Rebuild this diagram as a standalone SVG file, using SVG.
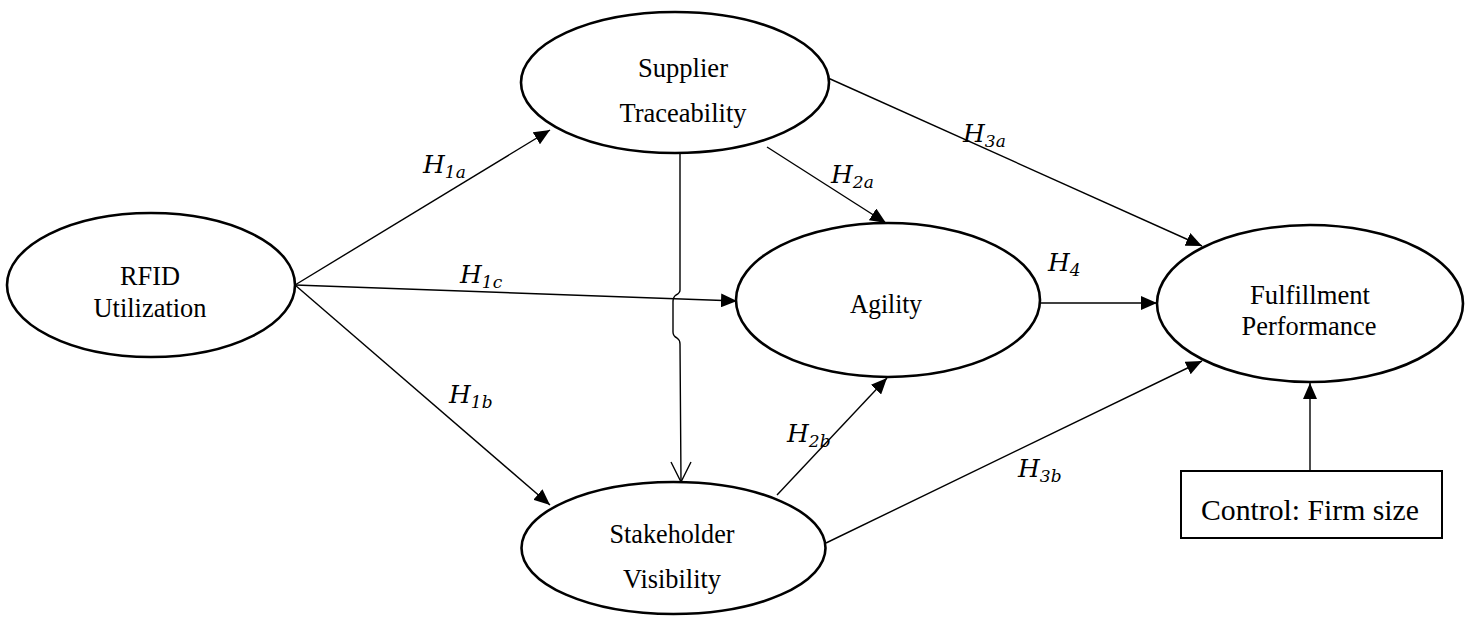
<svg xmlns="http://www.w3.org/2000/svg" width="1465" height="617" viewBox="0 0 1465 617">
<style>
.node{fill:#fff;stroke:#000;stroke-width:2.6}
.lbl{font-family:"Liberation Serif",Tinos,"Times New Roman","Nimbus Roman","DejaVu Serif",serif;font-size:26.5px;fill:#000;text-anchor:middle}
.hyp{font-family:"DejaVu Serif","Liberation Serif",serif;font-style:italic;font-size:25px;fill:#000}
.sub{font-size:17px}
.edge{fill:none;stroke:#000;stroke-width:1.4}
.arr{marker-end:url(#ah)}
</style>
<defs>
<marker id="ah" markerUnits="userSpaceOnUse" markerWidth="18" markerHeight="14" refX="16" refY="7" orient="auto">
<path d="M0,0 L16,7 L0,14 Z" fill="#000"/>
</marker>
</defs>
<rect width="1465" height="617" fill="#fff"/>
<g id="connectors">
<line class="edge arr" x1="295" y1="285" x2="550" y2="130"/>
<line class="edge arr" x1="295" y1="285" x2="737" y2="301"/>
<line class="edge arr" x1="295" y1="285" x2="550" y2="505"/>
<path class="edge" d="M680,154 L680,290 Q680,293 676,295 Q673,297 673,302 L673,332 Q673,336 677,338 Q680,340 680,344 L681,482"/>
<path class="edge" d="M671,462 L681,482 L691,462"/>
<line class="edge arr" x1="767" y1="147" x2="886" y2="223"/>
<line class="edge arr" x1="828" y1="78" x2="1202" y2="246"/>
<line class="edge arr" x1="1041" y1="303" x2="1157" y2="303"/>
<line class="edge arr" x1="777" y1="495" x2="887" y2="378"/>
<line class="edge arr" x1="826" y1="543" x2="1202" y2="361"/>
<line class="edge arr" x1="1310" y1="471" x2="1310" y2="383"/>
</g>
<g id="labels">
<text class="hyp" x="423" y="173">H<tspan class="sub" dy="5">1a</tspan></text>
<text class="hyp" x="460" y="283">H<tspan class="sub" dy="5">1c</tspan></text>
<text class="hyp" x="449" y="403">H<tspan class="sub" dy="5">1b</tspan></text>
<text class="hyp" x="831" y="183">H<tspan class="sub" dy="5">2a</tspan></text>
<text class="hyp" x="963" y="142">H<tspan class="sub" dy="5">3a</tspan></text>
<text class="hyp" x="1048" y="271">H<tspan class="sub" dy="5">4</tspan></text>
<text class="hyp" x="787" y="442">H<tspan class="sub" dy="5">2b</tspan></text>
<text class="hyp" x="1018" y="477">H<tspan class="sub" dy="5">3b</tspan></text>
</g>
<g id="rfid">
<ellipse class="node" cx="151" cy="285" rx="144" ry="72"/>
<text class="lbl" x="150" y="285" textLength="60" lengthAdjust="spacingAndGlyphs">RFID</text>
<text class="lbl" x="150" y="317" textLength="113" lengthAdjust="spacingAndGlyphs">Utilization</text>
</g>
<g id="supplier">
<ellipse class="node" cx="675" cy="82.5" rx="154" ry="70.5"/>
<text class="lbl" x="683" y="77" textLength="90" lengthAdjust="spacingAndGlyphs">Supplier</text>
<text class="lbl" x="683" y="122" textLength="127" lengthAdjust="spacingAndGlyphs">Traceability</text>
</g>
<g id="agility">
<ellipse class="node" cx="888" cy="300" rx="152" ry="77"/>
<text class="lbl" x="886" y="313" textLength="72" lengthAdjust="spacingAndGlyphs">Agility</text>
</g>
<g id="fulfillment">
<ellipse class="node" cx="1310" cy="303.5" rx="153" ry="78.5"/>
<text class="lbl" x="1310" y="304" textLength="120" lengthAdjust="spacingAndGlyphs">Fulfillment</text>
<text class="lbl" x="1309" y="335" textLength="135" lengthAdjust="spacingAndGlyphs">Performance</text>
</g>
<g id="stakeholder">
<ellipse class="node" cx="673.5" cy="548" rx="152" ry="66"/>
<text class="lbl" x="672" y="543" textLength="125" lengthAdjust="spacingAndGlyphs">Stakeholder</text>
<text class="lbl" x="672" y="588" textLength="98" lengthAdjust="spacingAndGlyphs">Visibility</text>
</g>
<g id="control">
<rect x="1181" y="471" width="261" height="67" fill="#fff" stroke="#000" stroke-width="2"/>
<text class="lbl" x="1201" y="520" style="text-anchor:start;font-size:29px" textLength="218" lengthAdjust="spacingAndGlyphs">Control: Firm size</text>
</g>
</svg>
